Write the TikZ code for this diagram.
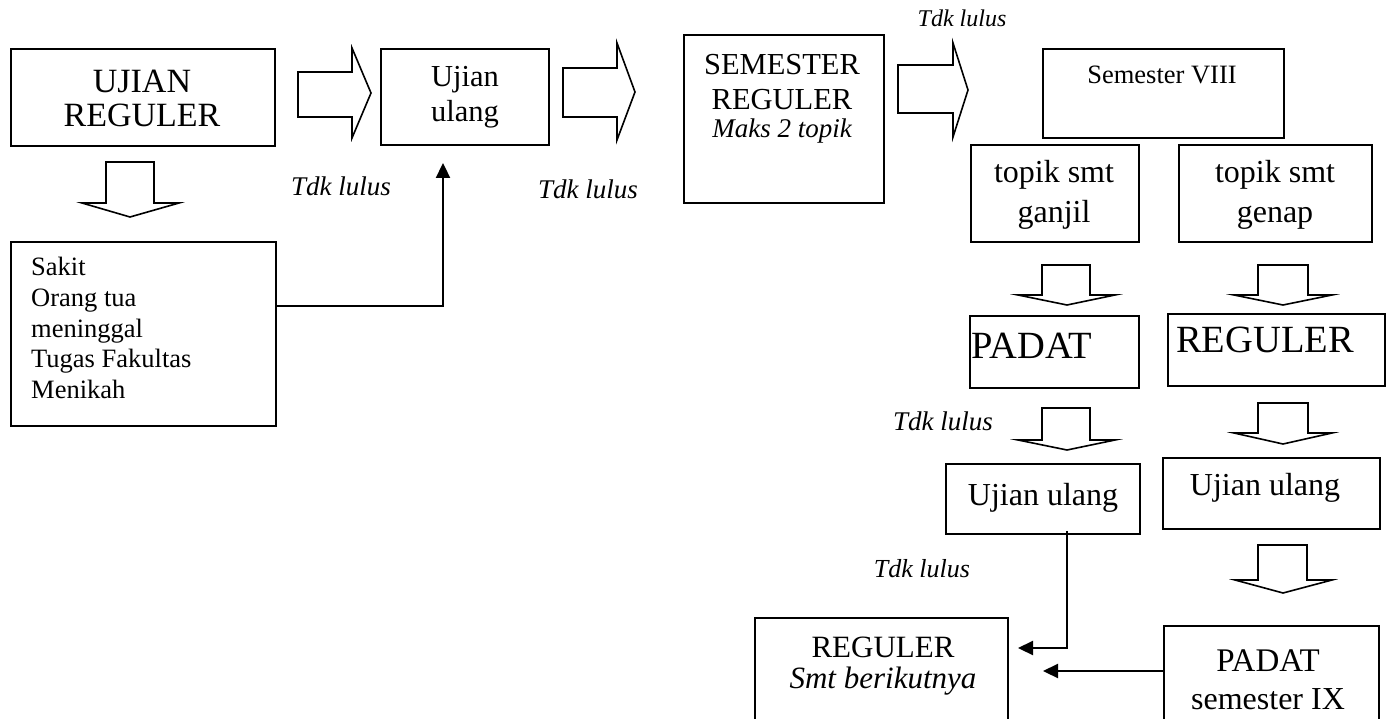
\documentclass[tikz,border=0pt]{standalone}
\usepackage{fontspec}
\setmainfont{Liberation Serif}
\usetikzlibrary{arrows.meta,calc}

\begin{document}
\begin{tikzpicture}[x=1pt,y=-1pt,
  box/.style={draw, line width=1.8pt, inner sep=0pt, anchor=north west},
  blk/.style={draw, line width=1.6pt, line join=miter},
  conn/.style={line width=2.3pt, -{Triangle[length=15pt,width=14pt]}},
  lbl/.style={inner sep=0pt, anchor=base},
  big/.style={lbl, font=\fontsize{32}{36}\selectfont},
  mid/.style={lbl, font=\fontsize{38.5}{42}\selectfont},
  small/.style={lbl, font=\fontsize{26.5}{30}\selectfont},
  note/.style={lbl, font=\fontsize{27}{30}\selectfont\itshape}]

\clip (0,0) rectangle (1391,719);

% ---------- boxes ----------
\node[box, minimum width=264pt, minimum height=97pt]  (ujr)     at (10,48)   {};
\node[box, minimum width=168pt, minimum height=96pt]  (uu1)     at (380,48)  {};
\node[box, minimum width=265pt, minimum height=184pt] (sakit)   at (10,241)  {};
\node[box, minimum width=200pt, minimum height=168pt] (semreg)  at (683,34)  {};
\node[box, minimum width=241pt, minimum height=89pt]  (sem8)    at (1042,48) {};
\node[box, minimum width=168pt, minimum height=97pt]  (tganjil) at (970,144) {};
\node[box, minimum width=193pt, minimum height=97pt]  (tgenap)  at (1178,144) {};
\node[box, minimum width=169pt, minimum height=72pt]  (padat)   at (969,315) {};
\node[box, minimum width=217pt, minimum height=72pt]  (reg)     at (1167,313) {};
\node[box, minimum width=194pt, minimum height=70pt]  (uu2)     at (945,463) {};
\node[box, minimum width=217pt, minimum height=71pt]  (uu3)     at (1162,457) {};
\node[box, minimum width=253pt, minimum height=130pt] (regnext) at (754,617) {};
\node[box, minimum width=215pt, minimum height=130pt] (padat9)  at (1163,625) {};

% ---------- box texts ----------
\node[lbl, font=\fontsize{34}{38}\selectfont] (ujr-a) at (142,93)  {UJIAN};
\node[lbl, font=\fontsize{34}{38}\selectfont] (ujr-b) at (142,127) {REGULER};

\node[lbl, font=\fontsize{30.5}{34}\selectfont] (uu1-a) at (465,87)  {Ujian};
\node[lbl, font=\fontsize{30.5}{34}\selectfont] (uu1-b) at (465,122) {ulang};

\node[small, anchor=base west] (sk-a) at (31,275) {Sakit};
\node[small, anchor=base west] (sk-b) at (31,306) {Orang tua};
\node[small, anchor=base west] (sk-c) at (31,337) {meninggal};
\node[small, anchor=base west] (sk-d) at (31,367) {Tugas Fakultas};
\node[small, anchor=base west] (sk-e) at (31,398) {Menikah};

\node[lbl, font=\fontsize{30.5}{35}\selectfont] (sr-a) at (782,75)  {SEMESTER};
\node[lbl, font=\fontsize{30.5}{35}\selectfont] (sr-b) at (782,110) {REGULER};
\node[note] (sr-c) at (782,138) {Maks 2 topik};

\node[small] (s8) at (1162,84) {Semester VIII};

\node[big] (tg-a) at (1054,183) {topik smt};
\node[big] (tg-b) at (1054,223) {ganjil};
\node[big] (te-a) at (1275,183) {topik smt};
\node[big] (te-b) at (1275,223) {genap};

\node[mid] (pd)  at (1032,358) {PADAT};
\node[mid] (rg)  at (1265,352) {REGULER};

\node[big] (uu2-a) at (1043,505) {Ujian ulang};
\node[big] (uu3-a) at (1265,495) {Ujian ulang};

\node[lbl, font=\fontsize{31}{35}\selectfont] (rn-a) at (883,657) {REGULER};
\node[lbl, font=\fontsize{31}{35}\selectfont\itshape] (rn-b) at (883,688) {Smt berikutnya};

\node[lbl, font=\fontsize{33}{37}\selectfont] (p9-a) at (1268,671) {PADAT};
\node[big] (p9-b) at (1268,709) {semester IX};

% ---------- "Tdk lulus" notes ----------
\node[note] (n1) at (341,196) {Tdk lulus};
\node[note] (n2) at (588,199) {Tdk lulus};
\node[lbl, font=\fontsize{24}{28}\selectfont\itshape] (n3) at (962,27) {Tdk lulus};
\node[note] (n4) at (943,430) {Tdk lulus};
\node[lbl, font=\fontsize{26}{30}\selectfont\itshape] (n5) at (922,577) {Tdk lulus};

% ---------- block arrows pointing right ----------
\draw[blk] (298,72) -- (352,72) -- (352,48) -- (371,93) -- (352,138) -- (352,117) -- (298,117) -- cycle;
\draw[blk] (563,68) -- (617,68) -- (617,43) -- (635,92) -- (617,140) -- (617,117) -- (563,117) -- cycle;
\draw[blk] (898,65) -- (953,65) -- (953,43) -- (968,90) -- (953,137) -- (953,113) -- (898,113) -- cycle;

% ---------- block arrows pointing down ----------
\draw[blk] (106,162) -- (154,162) -- (154,203) -- (179,203) -- (130,217) -- (82,203) -- (106,203) -- cycle;
\draw[blk] (1042,265) -- (1090,265) -- (1090,295) -- (1115,295) -- (1067,305) -- (1018,295) -- (1042,295) -- cycle;
\draw[blk] (1258,265) -- (1308,265) -- (1308,295) -- (1332,295) -- (1283,305) -- (1234,295) -- (1258,295) -- cycle;
\draw[blk] (1042,408) -- (1090,408) -- (1090,440) -- (1115,440) -- (1067,450) -- (1018,440) -- (1042,440) -- cycle;
\draw[blk] (1258,403) -- (1308,403) -- (1308,433) -- (1332,433) -- (1283,444) -- (1234,433) -- (1258,433) -- cycle;
\draw[blk] (1258,545) -- (1307,545) -- (1307,580) -- (1332,580) -- (1283,593) -- (1235,580) -- (1258,580) -- cycle;

% ---------- line connectors ----------
\coordinate (e1) at (443,163);
\coordinate (e2) at (1018,648);
\coordinate (e3) at (1043,671);
\draw[conn] ($(sakit.north east)+(0,65)$) -| (e1);
\draw[conn] ($(uu2.south west)+(122,-4)$) |- (e2);
\draw[conn] ($(padat9.north west)+(0,46)$) -- (e3);

\end{tikzpicture}
\end{document}
